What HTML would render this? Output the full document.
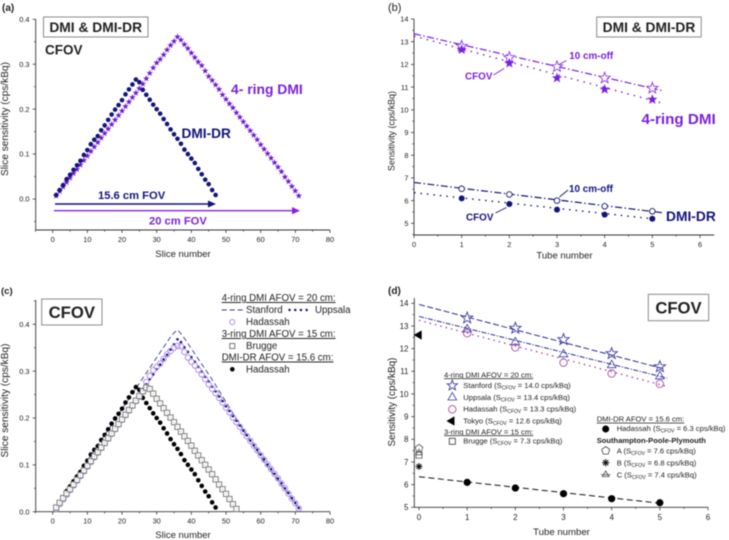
<!DOCTYPE html>
<html>
<head>
<meta charset="utf-8">
<style>
html,body{margin:0;padding:0;background:#fff;}
svg{display:block;font-family:"Liberation Sans",sans-serif;filter:blur(0.4px);}
text{fill:#222;}
.sub{font-size:5px;}
.bold{font-weight:bold;}
.box{fill:#fff;stroke:#8a8a8a;stroke-width:1;}
</style>
</head>
<body>
<svg id="fig" width="729" height="540" viewBox="0 0 729 540" xmlns="http://www.w3.org/2000/svg">
  <rect width="729" height="540" fill="#fff"/>
  <g id="marks"></g>

  <!-- panel a -->
  <g>
    <text x="2" y="11" font-size="10" class="bold">(a)</text>
    <rect class="box" x="43.5" y="17" width="104.5" height="20"/>
    <text x="95.7" y="32" font-size="13.8" class="bold" text-anchor="middle">DMI &amp; DMI-DR</text>
    <text x="45" y="54.5" font-size="13.5" class="bold">CFOV</text>
    <text x="231" y="94" font-size="13.9" class="bold" style="fill:#7b22d8">4- ring DMI</text>
    <text x="181.5" y="138" font-size="13.7" class="bold" style="fill:#14147a">DMI-DR</text>
    <text x="98" y="199" font-size="11.2" class="bold" style="fill:#14147a">15.6 cm FOV</text>
    <text x="149" y="224.5" font-size="11.2" class="bold" style="fill:#7b22d8">20 cm FOV</text>
    <line x1="55" y1="204" x2="210" y2="204" stroke="#14147a" stroke-width="1.4"/>
    <polygon points="208,200.5 216,204 208,207.5" fill="#14147a"/>
    <line x1="54" y1="210.7" x2="294" y2="210.7" stroke="#8a1fe8" stroke-width="1.4"/>
    <polygon points="292,207 300,210.7 292,214.4" fill="#8a1fe8"/>
  </g>

  <!-- panel b -->
  <g>
    <text x="388" y="11" font-size="11">(b)</text>
    <rect class="box" x="596.7" y="17" width="104.5" height="20"/>
    <text x="649" y="32" font-size="13.8" class="bold" text-anchor="middle">DMI &amp; DMI-DR</text>
    <text x="641.5" y="124" font-size="15.2" class="bold" style="fill:#7b22d8">4-ring DMI</text>
    <text x="666" y="221" font-size="13.8" class="bold" style="fill:#14147a">DMI-DR</text>
    <text x="569.3" y="59" font-size="9.9" class="bold" style="fill:#7b22d8">10 cm-off</text>
    <text x="465" y="79.7" font-size="9.9" class="bold" style="fill:#7b22d8">CFOV</text>
    <text x="569" y="192" font-size="9.9" class="bold" style="fill:#14147a">10 cm-off</text>
    <text x="466" y="220.5" font-size="9.9" class="bold" style="fill:#14147a">CFOV</text>
    <line x1="566.5" y1="60.5" x2="559" y2="64.5" stroke="#7b22d8" stroke-width="0.9"/>
    <line x1="493.5" y1="75" x2="504" y2="68.5" stroke="#7b22d8" stroke-width="0.9"/>
    <line x1="568" y1="190" x2="559.5" y2="197" stroke="#14147a" stroke-width="0.9"/>
    <line x1="495.5" y1="213" x2="506.5" y2="207.5" stroke="#14147a" stroke-width="0.9"/>
  </g>

  <!-- panel c -->
  <g>
    <text x="1" y="294" font-size="9.5" class="bold">(c)</text>
    <rect class="box" x="41.7" y="299" width="60.3" height="26"/>
    <text x="71.8" y="318" font-size="16.7" class="bold" text-anchor="middle">CFOV</text>
    <g font-size="9.7">
      <text x="221.7" y="301" text-decoration="underline">4-ring DMI AFOV = 20 cm:</text>
      <text x="246" y="313">Stanford</text>
      <text x="315" y="313">Uppsala</text>
      <text x="246" y="325">Hadassah</text>
      <text x="221.7" y="337" text-decoration="underline">3-ring DMI AFOV = 15 cm:</text>
      <text x="246" y="349">Brugge</text>
      <text x="221.7" y="360.5" text-decoration="underline">DMI-DR AFOV = 15.6 cm:</text>
      <text x="246" y="372.5">Hadassah</text>
    </g>
    <line x1="221.7" y1="310" x2="243.3" y2="310" stroke="#3a3a96" stroke-width="0.9" stroke-dasharray="5 3"/>
    <line x1="289.5" y1="310" x2="309" y2="310" stroke="#14147a" stroke-width="2.4" stroke-linecap="round" stroke-dasharray="0.1 5.6"/>
    <circle cx="232.3" cy="322" r="2.6" fill="none" stroke="#a884e8" stroke-width="0.9"/>
    <rect x="229.8" y="343.5" width="5" height="5" fill="#fff" stroke="#777" stroke-width="1"/>
    <circle cx="232.3" cy="369.3" r="2.3" fill="#000"/>
  </g>

  <!-- panel d -->
  <g>
    <text x="388" y="294" font-size="10" class="bold">(d)</text>
    <rect class="box" x="648.3" y="294.3" width="60.4" height="26.4"/>
    <text x="678.5" y="313.5" font-size="16.7" class="bold" text-anchor="middle">CFOV</text>
    <g font-size="7.6">
      <text x="444" y="377.3" text-decoration="underline">4-ring DMI AFOV = 20 cm:</text>
      <text x="463.3" y="388">Stanford (S<tspan class="sub" dy="1.5">CFOV</tspan><tspan dy="-1.5"> = 14.0 cps/kBq)</tspan></text>
      <text x="463.3" y="400">Uppsala (S<tspan class="sub" dy="1.5">CFOV</tspan><tspan dy="-1.5"> = 13.4 cps/kBq)</tspan></text>
      <text x="463.3" y="411.7">Hadassah (S<tspan class="sub" dy="1.5">CFOV</tspan><tspan dy="-1.5"> = 13.3 cps/kBq)</tspan></text>
      <text x="463.3" y="423.3">Tokyo (S<tspan class="sub" dy="1.5">CFOV</tspan><tspan dy="-1.5"> = 12.6 cps/kBq)</tspan></text>
      <text x="444" y="434.3" text-decoration="underline">3-ring DMI AFOV = 15 cm:</text>
      <text x="463.3" y="443.7">Brugge (S<tspan class="sub" dy="1.5">CFOV</tspan><tspan dy="-1.5"> = 7.3 cps/kBq)</tspan></text>
      <text x="596.7" y="421.7" text-decoration="underline">DMI-DR AFOV = 15.6 cm:</text>
      <text x="616.7" y="431">Hadassah (S<tspan class="sub" dy="1.5">CFOV</tspan><tspan dy="-1.5"> = 6.3 cps/kBq)</tspan></text>
      <text x="596.7" y="443" class="bold">Southampton-Poole-Plymouth</text>
      <text x="616.7" y="453.3">A (S<tspan class="sub" dy="1.5">CFOV</tspan><tspan dy="-1.5"> = 7.6 cps/kBq)</tspan></text>
      <text x="616.7" y="465.3">B (S<tspan class="sub" dy="1.5">CFOV</tspan><tspan dy="-1.5"> = 6.8 cps/kBq)</tspan></text>
      <text x="616.7" y="477.3">C (S<tspan class="sub" dy="1.5">CFOV</tspan><tspan dy="-1.5"> = 7.4 cps/kBq)</tspan></text>
    </g>
  </g>
</svg>

<script>
// ---------- data ----------
var fourRingSlices = [.007,.017,.027,.037,.047,.057,.066,.076,.086,.096,.106,.116,.126,.136,.146,.156,.166,.176,.186,.196,.206,.216,.226,.236,.246,.256,.268,.280,.292,.303,.311,.321,.332,.342,.351,.361,.354,.344,.335,.325,.315,.305,.297,.285,.273,.264,.254,.244,.232,.222,.212,.203,.192,.182,.172,.162,.152,.142,.132,.121,.111,.101,.091,.081,.071,.061,.049,.039,.028,.018,.007];
var dmiDrSlices = [.009,.020,.031,.044,.054,.065,.075,.085,.098,.109,.122,.132,.140,.153,.164,.176,.188,.199,.209,.220,.233,.244,.255,.266,.260,.243,.232,.221,.210,.200,.190,.178,.167,.155,.144,.134,.123,.110,.100,.090,.080,.067,.055,.043,.033,.020,.009];
var stanfordSlices = [.010,.021,.032,.043,.054,.065,.076,.087,.098,.109,.120,.131,.142,.153,.164,.175,.186,.197,.208,.219,.230,.241,.252,.263,.274,.285,.296,.307,.318,.329,.340,.351,.362,.373,.382,.388,.380,.370,.359,.348,.337,.326,.315,.304,.293,.282,.270,.258,.246,.234,.222,.210,.198,.186,.174,.162,.151,.140,.129,.118,.107,.097,.087,.077,.067,.057,.047,.037,.027,.017,.008];
var uppsalaSlices = [.008,.018,.028,.038,.048,.058,.068,.078,.088,.098,.108,.118,.128,.139,.149,.159,.169,.179,.190,.200,.210,.220,.231,.241,.251,.262,.272,.283,.293,.304,.314,.325,.335,.346,.357,.368,.362,.351,.341,.330,.320,.309,.299,.288,.278,.267,.257,.246,.236,.225,.215,.204,.194,.184,.173,.163,.152,.142,.132,.122,.112,.101,.091,.081,.071,.061,.050,.040,.029,.019,.008];
var hadassahSlices = [.006,.016,.026,.036,.046,.056,.066,.076,.086,.096,.106,.116,.126,.136,.146,.156,.166,.176,.186,.196,.206,.216,.226,.236,.246,.256,.277,.290,.302,.309,.316,.326,.336,.343,.350,.354,.353,.341,.329,.320,.312,.303,.293,.283,.272,.262,.253,.243,.233,.222,.212,.201,.191,.181,.171,.161,.151,.141,.131,.121,.111,.101,.091,.081,.071,.060,.050,.039,.028,.018,.007];
var bruggeSlices = [.009,.019,.029,.039,.048,.058,.068,.078,.088,.098,.108,.118,.127,.137,.147,.157,.167,.177,.187,.197,.207,.217,.227,.237,.247,.257,.265,.262,.252,.241,.231,.221,.211,.201,.191,.181,.171,.161,.151,.141,.130,.120,.110,.100,.090,.080,.069,.058,.048,.038,.027,.016,.006];

var tubes = [1,2,3,4,5];
var bFourRingOff = [12.8,12.3,11.9,11.4,10.95];
var bFourRingCfov = [12.65,12.05,11.4,10.9,10.45];
var bDrOff = [6.52,6.27,6.0,5.75,5.53];
var bDrCfov = [6.1,5.85,5.6,5.38,5.2];
var bFitFourRingOffX = [0,5.2], bFitFourRingOffY = [13.35,10.85];
var bFitFourRingCfovX = [0,5.2], bFitFourRingCfovY = [13.25,10.3];
var bFitDrOffX = [0,5.2], bFitDrOffY = [6.8,5.47];
var bFitDrCfovX = [0,5], bFitDrCfovY = [6.35,5.2];

var dStanford = [13.35,12.9,12.4,11.78,11.2];
var dUppsala = [12.85,12.28,11.75,11.27,10.78];
var dHadassah = [12.68,12.05,11.38,10.9,10.45];
var dDrHadassah = [6.1,5.85,5.6,5.38,5.2];
var dFitStanfordX = [0,5.1], dFitStanfordY = [13.95,11.1];
var dFitUppsalaX = [0,5.15], dFitUppsalaY = [13.42,10.7];
var dFitHadassahX = [0,5.15], dFitHadassahY = [13.25,10.33];
var dFitDrX = [0,5], dFitDrY = [6.35,5.18];
var dTokyo = 12.6, dBrugge = 7.3, dSiteA = 7.6, dSiteB = 6.8, dSiteC = 7.4;

var sliceTicks = [0,10,20,30,40,50,60,70,80];
var tubeTicks = [0,1,2,3,4,5,6];
var aYTicks = ['0.0','0.1','0.2','0.3','0.4'];
var cYTicks = ['0.0','0.1','0.2','0.3','0.4'];
var bYTicks = ['5','6','7','8','9','10','11','12','13','14'];
var dYTicks = ['5','6','7','8','9','10','11','12','13','14'];

// ---------- helpers ----------
var NS = 'http://www.w3.org/2000/svg';
var root = document.getElementById('marks');
function make(tag, attrs) {
  var el = document.createElementNS(NS, tag);
  for (var k in attrs) el.setAttribute(k, attrs[k]);
  root.appendChild(el);
  return el;
}
function scale(d0, d1, p0, p1) {
  return function (v) { return p0 + (v - d0) * (p1 - p0) / (d1 - d0); };
}
function starPts(cx, cy, R) {
  var p = [];
  for (var i = 0; i < 10; i++) {
    var r = i % 2 ? R * 0.42 : R;
    var a = -Math.PI / 2 + i * Math.PI / 5;
    p.push((cx + r * Math.cos(a)).toFixed(2) + ',' + (cy + r * Math.sin(a)).toFixed(2));
  }
  return p.join(' ');
}
function polyPts(cx, cy, R, n, rot) {
  var p = [];
  for (var i = 0; i < n; i++) {
    var a = rot + i * 2 * Math.PI / n;
    p.push((cx + R * Math.cos(a)).toFixed(2) + ',' + (cy + R * Math.sin(a)).toFixed(2));
  }
  return p.join(' ');
}
function star(cx, cy, R, fill, stroke, sw, name) {
  var el = make('polygon', {points: starPts(cx, cy, R), fill: fill, stroke: stroke, 'stroke-width': sw});
  
  
  return el;
}
function circle(cx, cy, r, fill, stroke, sw, name) {
  var el = make('circle', {cx: cx, cy: cy, r: r, fill: fill, stroke: stroke, 'stroke-width': sw});
  
  
  return el;
}
function poly(pts, fill, stroke, sw, name) {
  var el = make('polygon', {points: pts, fill: fill, stroke: stroke, 'stroke-width': sw});
  
  
  return el;
}
function fit(xs, ys, X, Y, color, sw, dash, name) {
  var el = make('line', {x1: X(xs[0]), y1: Y(ys[0]), x2: X(xs[1]), y2: Y(ys[1]), stroke: color, 'stroke-width': sw, 'stroke-dasharray': dash});
  
  
  return el;
}
function label(x, y, str, size, anchor, name, rot) {
  var el = make('text', {x: x, y: y, 'font-size': size, 'text-anchor': anchor});
  el.textContent = str;
  if (rot) el.setAttribute('transform', 'rotate(-90 ' + x + ' ' + y + ')');
  
  
  return el;
}
function segment(x1, y1, x2, y2, w, name) {
  var el = make('line', {x1: x1, y1: y1, x2: x2, y2: y2, stroke: '#333', 'stroke-width': w});
  
  
  return el;
}
function axes(o) {
  var id = o.id;
  segment(o.left, o.bottom, o.right, o.bottom, 0.9, id + '-x-axis');
  segment(o.left, o.bottom, o.left, o.top, 0.9, id + '-y-axis');
  o.xTicks.forEach(function (t, i) {
    var px = o.X(t);
    segment(px, o.bottom, px, o.bottom + 3, 0.8, id + '-x-tick');
    label(px, o.xLabelY, String(t), o.tickSize, 'middle', id + '-x-tick-label');
    if (i < o.xTicks.length - 1) {
      var m = o.X((t + o.xTicks[i + 1]) / 2);
      segment(m, o.bottom, m, o.bottom + 1.7, 0.7, id + '-x-minor-tick');
    }
  });
  if (o.xExtraMinor !== undefined) {
    var e = o.X(o.xExtraMinor);
    segment(e, o.bottom, e, o.bottom + 1.7, 0.7, id + '-x-minor-tick');
  }
  o.yTicks.forEach(function (t, i) {
    var v = parseFloat(t), py = o.Y(v);
    segment(o.left - 3, py, o.left, py, 0.8, id + '-y-tick');
    label(o.yLabelX, py + o.tickSize * 0.36, t, o.tickSize, 'end', id + '-y-tick-label');
    if (i < o.yTicks.length - 1) {
      var m = o.Y((v + parseFloat(o.yTicks[i + 1])) / 2);
      segment(o.left - 1.7, m, o.left, m, 0.7, id + '-y-minor-tick');
    } else if (o.yExtraMinor !== undefined) {
      var n = o.Y(o.yExtraMinor);
      segment(o.left - 1.7, n, o.left, n, 0.7, id + '-y-minor-tick');
    }
  });
  if (o.yLowMinor !== undefined) {
    var q = o.Y(o.yLowMinor);
    segment(o.left - 1.7, q, o.left, q, 0.7, id + '-y-minor-tick');
  }
  label(o.xTitleX, o.xTitleY, o.xTitle, o.xTitleSize, 'middle', id + '-x-axis-title');
  label(o.yTitleX, o.yTitleY, o.yTitle, o.yTitleSize, 'middle', id + '-y-axis-title', true);
}

var PURPLE = '#7a1fe0', NAVY = '#14147a';

// ---------- panel a ----------
var ax = scale(0, 80, 52.7, 330), ay = scale(0, 0.4, 199, 19.3);
axes({id: 'panel-a', X: ax, Y: ay, left: 35.7, right: 330, top: 19.3, bottom: 230,
  xTicks: sliceTicks, yTicks: aYTicks, tickSize: 7.4, xLabelY: 242, yLabelX: 29.5, yLowMinor: -0.05,
  xExtraMinor: -5,
  xTitle: 'Slice number', xTitleX: 183, xTitleY: 257, xTitleSize: 9.5,
  yTitle: 'Slice sensitivity (cps/kBq)', yTitleX: 8, yTitleY: 119, yTitleSize: 10.1});
fourRingSlices.forEach(function (v, i) {
  star(ax(i + 1), ay(v), 3.2, '#5f18c8', '#b070e8', 0.5, 'four-ring-star');
});
dmiDrSlices.forEach(function (v, i) {
  circle(ax(i + 1), ay(v), 2.3, NAVY, 'none', 0, 'dmi-dr-point');
});

// ---------- panel b ----------
var bx = scale(0, 6, 414, 700), by = scale(5, 14, 223.3, 19);
axes({id: 'panel-b', X: bx, Y: by, left: 414, right: 714.3, top: 19, bottom: 235,
  xTicks: tubeTicks, yTicks: bYTicks, tickSize: 7.4, xLabelY: 247, yLabelX: 408.5, yLowMinor: 4.5,
  xTitle: 'Tube number', xTitleX: 564.5, xTitleY: 258.7, xTitleSize: 9.5,
  yTitle: 'Sensitivity (cps/kBq)', yTitleX: 394.5, yTitleY: 131, yTitleSize: 8.9});
fit(bFitFourRingOffX, bFitFourRingOffY, bx, by, PURPLE, 1.2, '7 2.5 1.5 2.5', 'four-ring-off-fit');
fit(bFitFourRingCfovX, bFitFourRingCfovY, bx, by, PURPLE, 1.4, '1.5 5', 'four-ring-cfov-fit');
fit(bFitDrOffX, bFitDrOffY, bx, by, NAVY, 1.2, '7 2.5 1.5 2.5', 'dr-off-fit');
fit(bFitDrCfovX, bFitDrCfovY, bx, by, NAVY, 1.4, '1.5 5', 'dr-cfov-fit');
tubes.forEach(function (t, i) {
  star(bx(t), by(bFourRingOff[i]), 5.8, '#fff', '#8a3ae0', 0.9, 'four-ring-off-star');
  star(bx(t), by(bFourRingCfov[i]), 5, PURPLE, PURPLE, 0.3, 'four-ring-cfov-star');
  circle(bx(t), by(bDrOff[i]), 2.8, '#fff', NAVY, 0.9, 'dr-off-point');
  circle(bx(t), by(bDrCfov[i]), 3, NAVY, 'none', 0, 'dr-cfov-point');
});

// ---------- panel c ----------
var cx = scale(0, 80, 52.7, 330), cy = scale(0, 0.4, 511.7, 324.3);
axes({id: 'panel-c', X: cx, Y: cy, left: 35.7, right: 330, top: 300, bottom: 511.7,
  xTicks: sliceTicks, yTicks: cYTicks, tickSize: 7.4, xLabelY: 523.5, yLabelX: 29.5, yExtraMinor: 0.45,
  xExtraMinor: -5,
  xTitle: 'Slice number', xTitleX: 183, xTitleY: 538, xTitleSize: 9.5,
  yTitle: 'Slice sensitivity (cps/kBq)', yTitleX: 8, yTitleY: 400.5, yTitleSize: 10.1});
var stanfordLine = make('polyline', {
  points: stanfordSlices.map(function (v, i) { return cx(i + 1).toFixed(2) + ',' + cy(v).toFixed(2); }).join(' '),
  fill: 'none', stroke: '#3a3a96', 'stroke-width': 0.9, 'stroke-dasharray': '5 3'
});


uppsalaSlices.forEach(function (v, i) {
  circle(cx(i + 1), cy(v), 1.3, NAVY, 'none', 0, 'uppsala-point');
});
hadassahSlices.forEach(function (v, i) {
  circle(cx(i + 1), cy(v), 2.7, 'none', '#a884e8', 0.9, 'hadassah-point');
});
dmiDrSlices.forEach(function (v, i) {
  circle(cx(i + 1), cy(v), 2.3, '#000', 'none', 0, 'hadassah-dr-point');
});
bruggeSlices.forEach(function (v, i) {
  var el = make('rect', {x: cx(i + 1) - 2.6, y: cy(v) - 2.6, width: 5.2, height: 5.2, fill: '#fff', stroke: '#808080', 'stroke-width': 1});
  
  
  circle(cx(i + 1), cy(v), 0.4, '#666', 'none', 0, 'brugge-point-center');
});

// ---------- panel d ----------
var dx = scale(0, 6, 419, 708), dy = scale(5, 14, 507.3, 303.3);
axes({id: 'panel-d', X: dx, Y: dy, left: 414.3, right: 708, top: 298, bottom: 507.3,
  xTicks: tubeTicks, yTicks: dYTicks, tickSize: 8, xLabelY: 520, yLabelX: 408.5,
  xTitle: 'Tube number', xTitleX: 561.5, xTitleY: 535, xTitleSize: 9.6,
  yTitle: 'Sensitivity (cps/kBq)', yTitleX: 395, yTitleY: 402, yTitleSize: 9.9});
fit(dFitStanfordX, dFitStanfordY, dx, dy, '#2c2c90', 1, '6 2.5', 'stanford-fit');
fit(dFitUppsalaX, dFitUppsalaY, dx, dy, '#2c2c90', 1, '5 1.5 1.2 1.5', 'uppsala-fit');
fit(dFitHadassahX, dFitHadassahY, dx, dy, '#a0308c', 1.2, '1.5 4', 'hadassah-fit');
fit(dFitDrX, dFitDrY, dx, dy, '#111', 1, '6 3.5', 'dr-fit');
tubes.forEach(function (t, i) {
  star(dx(t), dy(dStanford[i]), 6, 'none', '#3a3aa8', 0.9, 'stanford-star');
  poly(polyPts(dx(t), dy(dUppsala[i]), 5, 3, -Math.PI / 2), 'none', '#3a3aa8', 0.8, 'uppsala-triangle');
  circle(dx(t), dy(dHadassah[i]), 3.7, 'none', '#a8489c', 0.9, 'hadassah-circle');
  circle(dx(t), dy(dDrHadassah[i]), 3.6, '#000', 'none', 0, 'dr-hadassah-point');
});
poly(polyPts(dx(0), dy(dTokyo), 5, 3, Math.PI), '#000', '#000', 0.4, 'tokyo-point');
var bruggeD = make('rect', {x: dx(0) - 3, y: dy(dBrugge) - 3, width: 6, height: 6, fill: 'none', stroke: '#555', 'stroke-width': 0.8});


poly(polyPts(dx(0), dy(dSiteA), 4, 5, -Math.PI / 2), 'none', '#555', 0.8, 'site-a-point');
poly(polyPts(dx(0), dy(dSiteC), 3.8, 3, -Math.PI / 2), 'none', '#555', 0.8, 'site-c-point');
[0, 1, 2, 3].forEach(function (k) {
  var a = k * Math.PI / 4;
  var sp = make('line', {x1: dx(0) - 3.4 * Math.cos(a), y1: dy(dSiteB) - 3.4 * Math.sin(a), x2: dx(0) + 3.4 * Math.cos(a), y2: dy(dSiteB) + 3.4 * Math.sin(a), stroke: '#111', 'stroke-width': 1.1});
  
  
});

// ---------- panel d legend swatches ----------
star(452.3, 385.5, 5.4, 'none', '#3a3aa8', 0.9, 'd-legend-swatch-stanford');
poly(polyPts(452.3, 397.5, 5, 3, -Math.PI / 2), 'none', '#3a3aa8', 0.8, 'd-legend-swatch-uppsala');
circle(452.3, 409.3, 3.7, 'none', '#a8489c', 0.9, 'd-legend-swatch-hadassah');
poly(polyPts(451.8, 421, 5, 3, Math.PI), '#000', '#000', 0.4, 'd-legend-swatch-tokyo');
var swBrugge = make('rect', {x: 449.3, y: 438.3, width: 6, height: 6, fill: 'none', stroke: '#333', 'stroke-width': 0.8});


circle(605.7, 429, 3.5, '#000', 'none', 0, 'd-legend-swatch-dr');
poly(polyPts(605.7, 450.7, 4.2, 5, -Math.PI / 2), 'none', '#444', 0.8, 'd-legend-swatch-a');
[0, 1, 2, 3].forEach(function (k) {
  var a = k * Math.PI / 4;
  var sp = make('line', {x1: 605.7 - 3.6 * Math.cos(a), y1: 462.7 - 3.6 * Math.sin(a), x2: 605.7 + 3.6 * Math.cos(a), y2: 462.7 + 3.6 * Math.sin(a), stroke: '#111', 'stroke-width': 1.1});
  
  
});
poly(polyPts(605.7, 474.7, 3.8, 3, -Math.PI / 2), 'none', '#444', 0.8, 'd-legend-swatch-c');
var swC = make('line', {x1: 601, y1: 474.7, x2: 610.4, y2: 474.7, stroke: '#444', 'stroke-width': 0.8});


</script>
</body>
</html>
